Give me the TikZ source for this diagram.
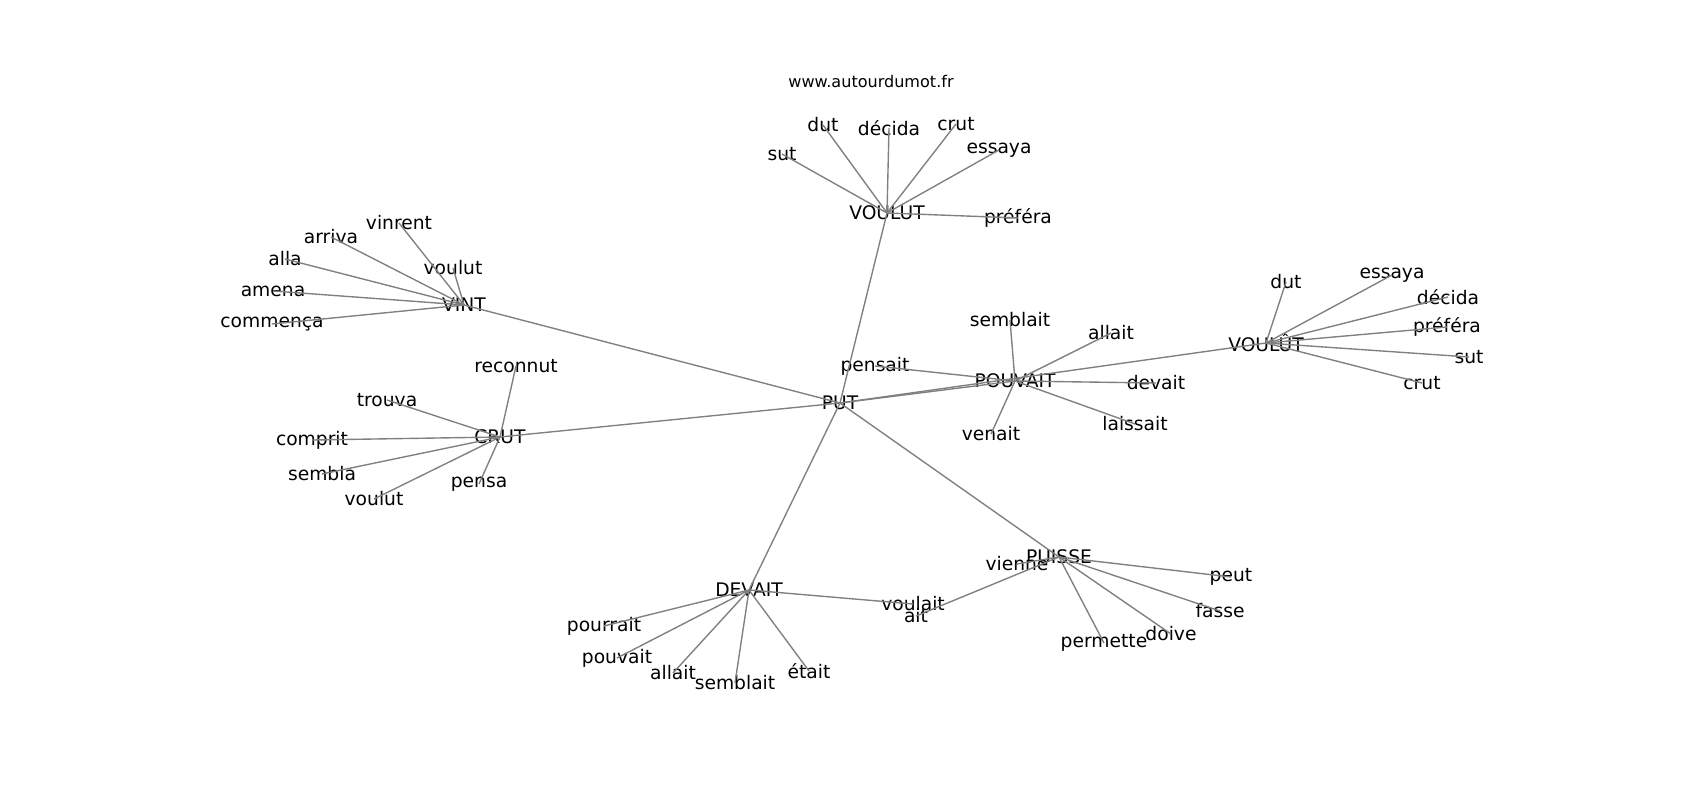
\documentclass[tikz,border=0pt]{standalone}
\usepackage{fontspec}
\setmainfont{DejaVu Sans}
\tikzstyle{word}=[inner sep=0pt,font=\fontsize{13.5}{16}\selectfont]
\tikzstyle{site}=[inner sep=0pt,font=\fontsize{11.6}{14}\selectfont]
\tikzstyle{link}=[draw=gray,line width=1pt]

\begin{document}
\begin{tikzpicture}[x=0.01in,y=-0.01in]
\useasboundingbox (0,0) rectangle (1700,800);
\node[site] (www) at (871,82) {www.autourdumot.fr};
% hubs
\node[word] (put) at (840,403) {PUT};
\node[word] (vt) at (887,213) {VOULUT};
\node[word] (vi) at (464,305) {VINT};
\node[word] (cr) at (500,437) {CRUT};
\node[word] (po) at (1015,381) {POUVAIT};
\node[word] (vc) at (1266,343) {VOULÛT};
\node[word] (de) at (749,590) {DEVAIT};
\node[word] (pu) at (1059,557) {PUISSE};
% leaves
\foreach \n/\x/\y/\t in {vt1/782/154/sut, vt2/823/125/dut, vt3/889/128/décida,
    vt4/956/124/crut, vt5/999/150/essaya, vt6/1018/218/préféra,
    vi1/399/223/vinrent, vi2/331/237/arriva, vi3/285/259/alla,
    vi4/453/268/voulut, vi5/273/291/amena, vi6/272/324/commença,
    cr1/516/366/reconnut, cr2/387/400/trouva, cr3/312/440/comprit,
    cr4/322/474/sembla, cr5/374/499/voulut, cr6/479/484/pensa,
    po1/875/366/pensait, po2/1010/320/semblait, po3/1111/333/allait,
    po4/1156/383/devait, po5/1135/424/laissait, po6/991/434/venait,
    vc1/1286/282/dut, vc2/1392/275/essaya, vc3/1448/297/décida,
    vc4/1447/327/préféra, vc5/1469/357/sut, vc6/1422/383/crut,
    de1/604/626/pourrait, de2/617/658/pouvait, de3/673/673/allait,
    de4/735/683/semblait, de5/809/671/était, de6/913/604/voulait,
    pu1/1017/564/vienne, pu2/916/616/ait, pu3/1231/577/peut,
    pu4/1220/611/fasse, pu5/1171/634/doive, pu6/1104/643/permette}
  \node[word] (\n) at (\x,\y) {\t};
% edges
\foreach \h in {vt,vi,cr,po,vc,de,pu}
  \draw[link] (put.center) -- (\h.center);
\foreach \h in {vt,vi,cr,po,vc,de,pu}
  \foreach \k in {1,...,6}
    \draw[link] (\h.center) -- (\h\k.center);
\end{tikzpicture}
\end{document}
